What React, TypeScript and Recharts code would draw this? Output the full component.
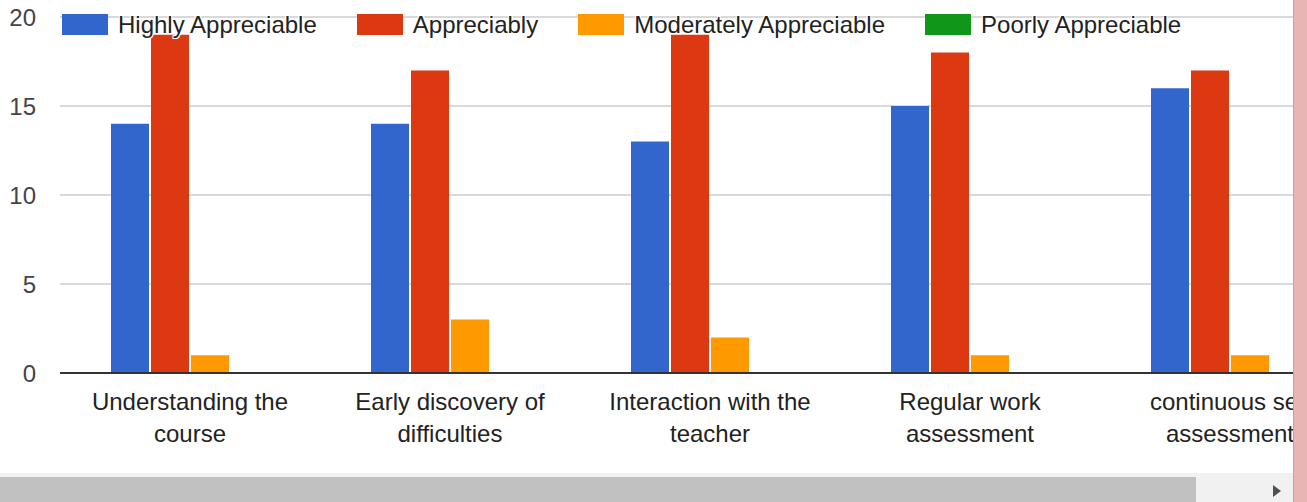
import React from 'react';
import { BarChart, Bar, XAxis, YAxis, CartesianGrid } from 'recharts';

const categories = [
  'Understanding the course',
  'Early discovery of difficulties',
  'Interaction with the teacher',
  'Regular work assessment',
  'continuous self assessment',
];
const highly = [14, 14, 13, 15, 16];
const appreciably = [19, 17, 19, 18, 17];
const moderately = [1, 3, 2, 1, 1];
const poorly = [0, 0, 0, 0, 0];
const yTicks = [0, 5, 10, 15, 20];

const series = [
  { key: 'highly', name: 'Highly Appreciable', color: '#3366cc' },
  { key: 'appreciably', name: 'Appreciably', color: '#dc3912' },
  { key: 'moderately', name: 'Moderately Appreciable', color: '#ff9900' },
  { key: 'poorly', name: 'Poorly Appreciable', color: '#109618' },
];

const data = categories.map((name, i) => ({
  name,
  highly: highly[i],
  appreciably: appreciably[i],
  moderately: moderately[i],
  poorly: poorly[i],
}));

const font = '"Liberation Sans", Arial, sans-serif';

let measureCtx: CanvasRenderingContext2D | null = null;
const wrapLabel = (label: string, maxWidth: number) => {
  if (!measureCtx) {
    measureCtx = document.createElement('canvas').getContext('2d');
  }
  const ctx = measureCtx!;
  ctx.font = `24px ${font}`;
  const lines: string[] = [];
  let cur = '';
  label.split(' ').forEach((w) => {
    const next = cur ? cur + ' ' + w : w;
    if (cur && ctx.measureText(next).width > maxWidth) {
      lines.push(cur);
      cur = w;
    } else {
      cur = next;
    }
  });
  if (cur) lines.push(cur);
  return lines;
};

const XTick = (props: any) => {
  const { x, y, payload } = props;
  const lines = wrapLabel(payload.value, 212);
  return (
    <text x={x} y={y + 37} textAnchor="middle" fill="#222" fontSize={24} fontFamily={font}>
      {lines.map((l, i) => (
        <tspan key={i} x={x} dy={i === 0 ? 0 : 32}>
          {l}
        </tspan>
      ))}
    </text>
  );
};

const halo = '0 0 2px #fff, 1px 1px 0 #fff, -1px -1px 0 #fff, 1px -1px 0 #fff, -1px 1px 0 #fff';

const App = () => {
  return (
    <div style={{ position: 'absolute', left: 0, top: 0, width: 1307, height: 502, background: '#fff', overflow: 'hidden', fontFamily: font }}>
      <div style={{ position: 'absolute', left: 0, top: 0, width: 1293, height: 473, overflow: 'hidden' }}>
        <BarChart
          width={1360}
          height={473}
          data={data}
          margin={{ top: 17, right: 0, bottom: 0, left: 0 }}
          barSize={38}
          barGap={2}
        >
          <CartesianGrid vertical={false} stroke="#cccccc" strokeWidth={1.5} />
          <XAxis
            dataKey="name"
            height={100}
            tickLine={false}
            tickSize={0}
            tickMargin={0}
            axisLine={{ stroke: '#333', strokeWidth: 2 }}
            tick={<XTick />}
            interval={0}
          />
          <YAxis
            width={60}
            domain={[0, 20]}
            ticks={yTicks}
            axisLine={false}
            tickLine={false}
            tickSize={0}
            tickMargin={24}
            tick={{ fill: '#444', fontSize: 24, fontFamily: font }}
          />
          {series.map((s) => (
            <Bar key={s.key} dataKey={s.key} name={s.name} fill={s.color} isAnimationActive={false} />
          ))}
        </BarChart>
        <div style={{ position: 'absolute', left: 62, top: 14, display: 'flex', height: 22 }}>
          {series.map((s) => (
            <div key={s.key} style={{ display: 'flex', alignItems: 'flex-start', marginRight: 40 }}>
              <div style={{ width: 46, height: 21, background: s.color }} />
              <span style={{ marginLeft: 10, fontSize: 24, lineHeight: '22px', color: '#222', whiteSpace: 'nowrap', textShadow: halo }}>
                {s.name}
              </span>
            </div>
          ))}
        </div>
      </div>
      <div style={{ position: 'absolute', left: 0, top: 473, width: 1293, height: 29, background: '#f1f1f1' }}>
        <div style={{ position: 'absolute', left: 0, top: 4, width: 1196, height: 25, background: '#c1c1c1' }} />
        <div
          style={{
            position: 'absolute',
            left: 1273,
            top: 12,
            width: 0,
            height: 0,
            borderTop: '6px solid transparent',
            borderBottom: '6px solid transparent',
            borderLeft: '8px solid #505050',
          }}
        />
      </div>
      <div style={{ position: 'absolute', left: 1293, top: 0, width: 14, height: 502, background: '#e9b4b4', borderLeft: '1px solid #d49a9a', boxSizing: 'border-box' }} />
    </div>
  );
};

export default App;
